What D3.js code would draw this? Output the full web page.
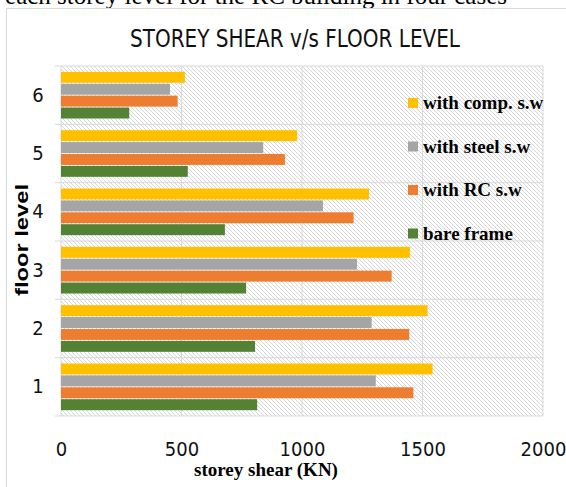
<!doctype html>
<meta charset="utf-8">
<script src="https://d3js.org/d3.v7.min.js"></script>
<style>
  body { margin: 0; background: #fff; }
  .tick text { font-family: "Liberation Sans Narrow", "DejaVu Sans Condensed", sans-serif; }
</style>
<body>
<svg width="566" height="487"></svg>
<script>
  // floors, top of chart is floor 6
  var floors = ["1", "2", "3", "4", "5", "6"];
  var seriesNames = ["with comp. s.w", "with steel s.w", "with RC s.w", "bare frame"];
  var seriesColors = ["#ffc000", "#a5a5a5", "#ed7d31", "#548235"];
  // values per floor 1..6
  var compSW  = [1542, 1521, 1448, 1278, 980, 514];
  var steelSW = [1306, 1289, 1228, 1087, 839, 452];
  var rcSW    = [1462, 1445, 1372, 1214, 929, 484];
  var bare    = [814, 805, 768, 680, 526, 283];
  var xTicks = [0, 500, 1000, 1500, 2000];

  var seriesValues = [compSW, steelSW, rcSW, bare];

  var svg = d3.select("svg");

  var pLeft = 61, pRight = 543, pTop = 66, pBottom = 416;

  // text above the chart (cut off at the top of the picture)
  svg.append("text")
    .attr("x", 507)
    .attr("y", 4)
    .attr("text-anchor", "end")
    .attr("font-family", "Liberation Serif, serif")
    .attr("font-size", "25px")
    .text("each storey level for the RC building in four cases");

  // chart border
  svg.append("rect")
    .attr("x", 6.5).attr("y", 8.5)
    .attr("width", 620).attr("height", 520)
    .attr("fill", "#fff")
    .attr("stroke", "#d9d9d9");

  // hatch pattern
  var defs = svg.append("defs");
  var pat = defs.append("pattern")
    .attr("id", "hatch")
    .attr("patternUnits", "userSpaceOnUse")
    .attr("width", 4).attr("height", 4);
  pat.append("rect").attr("width", 4).attr("height", 4).attr("fill", "#fff");
  pat.append("path")
    .attr("d", "M-1,-1 L5,5 M-1,3 L1,5 M3,-1 L5,1")
    .attr("stroke", "#d6d6d6")
    .attr("stroke-width", 1);

  svg.append("text")
    .attr("x", 295)
    .attr("y", 47)
    .attr("text-anchor", "middle")
    .attr("font-family", "Liberation Sans Narrow, DejaVu Sans Condensed, sans-serif")
    .attr("font-size", "24px")
    .attr("textLength", 330)
    .attr("lengthAdjust", "spacingAndGlyphs")
    .attr("fill", "#111")
    .text("STOREY SHEAR v/s FLOOR LEVEL");

  var x = d3.scaleLinear().domain([0, 2000]).range([pLeft, pRight]);
  var y0 = d3.scaleBand().domain(floors.slice().reverse()).range([pTop, pBottom])
    .paddingInner(0.2).paddingOuter(0.1);
  var y1 = d3.scaleBand().domain(seriesNames).range([0, y0.bandwidth()]).paddingInner(0.08);

  svg.append("rect")
    .attr("x", pLeft).attr("y", pTop)
    .attr("width", pRight - pLeft).attr("height", pBottom - pTop)
    .attr("fill", "url(#hatch)");

  // vertical gridlines
  svg.append("g").selectAll("line")
    .data(xTicks)
    .enter().append("line")
    .attr("x1", function (d) { return x(d); })
    .attr("x2", function (d) { return x(d); })
    .attr("y1", pTop).attr("y2", pBottom)
    .attr("stroke", "#d9d9d9");

  // category separators
  var seps = d3.range(floors.length + 1).map(function (i) { return pTop + i * (pBottom - pTop) / floors.length; });
  svg.append("g").selectAll("line")
    .data(seps)
    .enter().append("line")
    .attr("x1", pLeft - 6).attr("x2", pRight)
    .attr("y1", function (d) { return d; })
    .attr("y2", function (d) { return d; })
    .attr("stroke", "#d9d9d9");

  // bars
  var groups = svg.append("g").selectAll("g")
    .data(floors)
    .enter().append("g")
    .attr("transform", function (d) { return "translate(0," + y0(d) + ")"; });

  groups.selectAll("rect")
    .data(function (d, i) {
      return seriesNames.map(function (s, k) { return { s: s, k: k, v: seriesValues[k][i] }; });
    })
    .enter().append("rect")
    .attr("x", x(0))
    .attr("y", function (d) { return y1(d.s); })
    .attr("height", y1.bandwidth())
    .attr("width", function (d) { return x(d.v) - x(0); })
    .attr("fill", function (d) { return seriesColors[d.k]; });

  // y axis labels
  var yAxis = svg.append("g")
    .attr("transform", "translate(" + (pLeft - 23) + ",0)")
    .call(d3.axisLeft(y0).tickSize(0).tickPadding(0));
  yAxis.select(".domain").remove();
  yAxis.selectAll("text").attr("font-size", "20px").attr("fill", "#111").attr("text-anchor", "middle");

  // x axis labels
  var xAxis = svg.append("g")
    .attr("transform", "translate(0," + (pBottom + 26) + ")")
    .call(d3.axisBottom(x).tickValues(xTicks).tickFormat(d3.format("d")).tickSize(0).tickPadding(0));
  xAxis.select(".domain").remove();
  xAxis.selectAll("text").attr("font-size", "20px").attr("fill", "#111");

  // axis titles
  svg.append("text")
    .attr("x", 266)
    .attr("y", 476)
    .attr("text-anchor", "middle")
    .attr("font-family", "Liberation Serif, serif")
    .attr("font-weight", "bold")
    .attr("font-size", "19px")
    .text("storey shear (KN)");

  svg.append("text")
    .attr("transform", "translate(28,240) rotate(-90)")
    .attr("text-anchor", "middle")
    .attr("font-family", "Liberation Sans, Arial, sans-serif")
    .attr("font-weight", "bold")
    .attr("font-size", "18px")
    .attr("textLength", 112)
    .attr("lengthAdjust", "spacingAndGlyphs")
    .text("floor level");

  // legend
  var legend = svg.append("g").selectAll("g")
    .data(seriesNames)
    .enter().append("g")
    .attr("transform", function (d, i) { return "translate(408," + (98 + i * 43.5) + ")"; });
  legend.append("rect")
    .attr("width", 10).attr("height", 10)
    .attr("fill", function (d, i) { return seriesColors[i]; });
  legend.append("text")
    .attr("x", 15)
    .attr("y", 11)
    .attr("font-family", "Liberation Serif, serif")
    .attr("font-weight", "bold")
    .attr("font-size", "19px")
    .text(function (d) { return d; });
</script>
</body>
